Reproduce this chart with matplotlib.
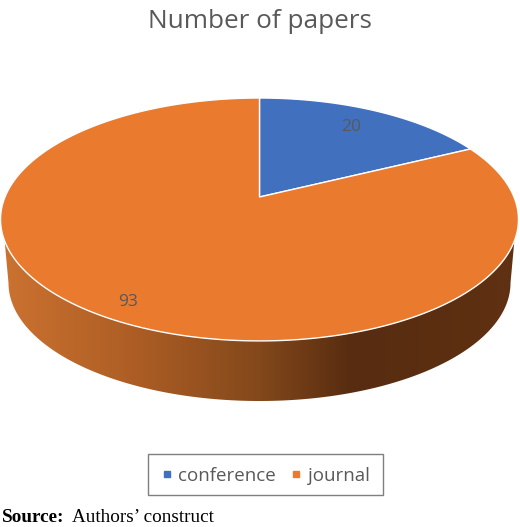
import numpy as np
import matplotlib
matplotlib.use("Agg")
import matplotlib.pyplot as plt
from matplotlib.patches import Polygon, Rectangle
from matplotlib.colors import LinearSegmentedColormap
from matplotlib.lines import Line2D

# Data
categories = ["conference", "journal"]
papers = [20, 93]
colors = ["#4170BF", "#EA7A2E"]
title_text = "Number of papers"

# Pie geometry in image pixels
APEX_X, APEX_Y = 259.5, 197.0
TILT = 0.185
SCALE_Y = 117.3
SCALE_X = 254.5


def top_point(theta):
    # theta is clockwise from 12 o'clock, perspective view of the disc
    u, v = np.sin(theta), np.cos(theta)
    w = 1 + TILT * v
    return APEX_X + SCALE_X * u / w, APEX_Y - SCALE_Y * v / w


def slice_polygon(start, end):
    theta = np.linspace(start, end, 300)
    x, y = top_point(theta)
    return np.column_stack([np.r_[APEX_X, x], np.r_[APEX_Y, y]])


fig = plt.figure(figsize=(5.2, 5.27), dpi=100)
ax = fig.add_axes([0, 0, 1, 1])
ax.set_xlim(0, 520)
ax.set_ylim(527, 0)
ax.axis("off")

# Side wall of the disc, shaded left to right
rim_x, rim_y = top_point(np.linspace(np.pi * 0.53, np.pi * 1.47, 300))
t = np.linspace(np.pi / 2, -np.pi / 2, 300)
wall_pts = np.column_stack([
    np.r_[rim_x, 259.5 - 251 * np.sin(t), rim_x[0]],
    np.r_[rim_y, 283 + 118 * np.cos(t), rim_y[0]],
])
wall = Polygon(wall_pts, closed=True, facecolor="none", edgecolor="none")
ax.add_patch(wall)
wall_cmap = LinearSegmentedColormap.from_list(
    "wall",
    [(0.0, "#CB7230"), (0.25, "#AE5E25"), (0.5, "#83481B"),
     (0.68, "#572C10"), (1.0, "#603112")],
)
grad = ax.imshow(np.linspace(0, 1, 520).reshape(1, -1), cmap=wall_cmap,
                 extent=[2, 518, 420, 200], aspect="auto", zorder=1)
grad.set_clip_path(wall)
ax.set_xlim(0, 520)
ax.set_ylim(527, 0)

# Top of the disc, one slice per category
start = 0.0
total = sum(papers)
for value, color in zip(papers, colors):
    end = start + value / total * 2 * np.pi
    ax.add_patch(Polygon(slice_polygon(start, end), closed=True, facecolor=color,
                         edgecolor="white", linewidth=1.0, zorder=2))
    start = end

# Data labels
ax.text(351, 127, str(papers[0]), color="#595959", fontsize=12.5, family="Open Sans",
        ha="center", va="center", zorder=3)
ax.text(128, 302, str(papers[1]), color="#595959", fontsize=12.5, family="Open Sans",
        ha="center", va="center", zorder=3)

ax.text(260, 21, title_text, color="#595959", fontsize=18.8, family="Open Sans",
        ha="center", va="center")

# Legend
ax.add_patch(Rectangle((148, 453.5), 235, 41, facecolor="white", edgecolor="#7F7F7F", linewidth=1.0))
handles = [Line2D([], [], linestyle="none", marker="s", markersize=4.5, color=c) for c in colors]
leg = ax.legend(handles, categories, loc="center", bbox_to_anchor=(263.5, 476),
                bbox_transform=ax.transData, ncol=2, frameon=False, handletextpad=0.1,
                columnspacing=0.6, handlelength=1.0, labelcolor="#595959",
                prop={"family": "Open Sans", "size": 13.5})

# Source line under the chart
ax.text(2, 518, "Source:", family="Liberation Serif", weight="bold", fontsize=13.8,
        ha="left", va="center", color="black")
ax.text(72, 518, "Authors\u2019 construct", family="Liberation Serif", fontsize=13.8,
        ha="left", va="center", color="black")

fig.savefig("out.png", dpi=100, facecolor="white")
